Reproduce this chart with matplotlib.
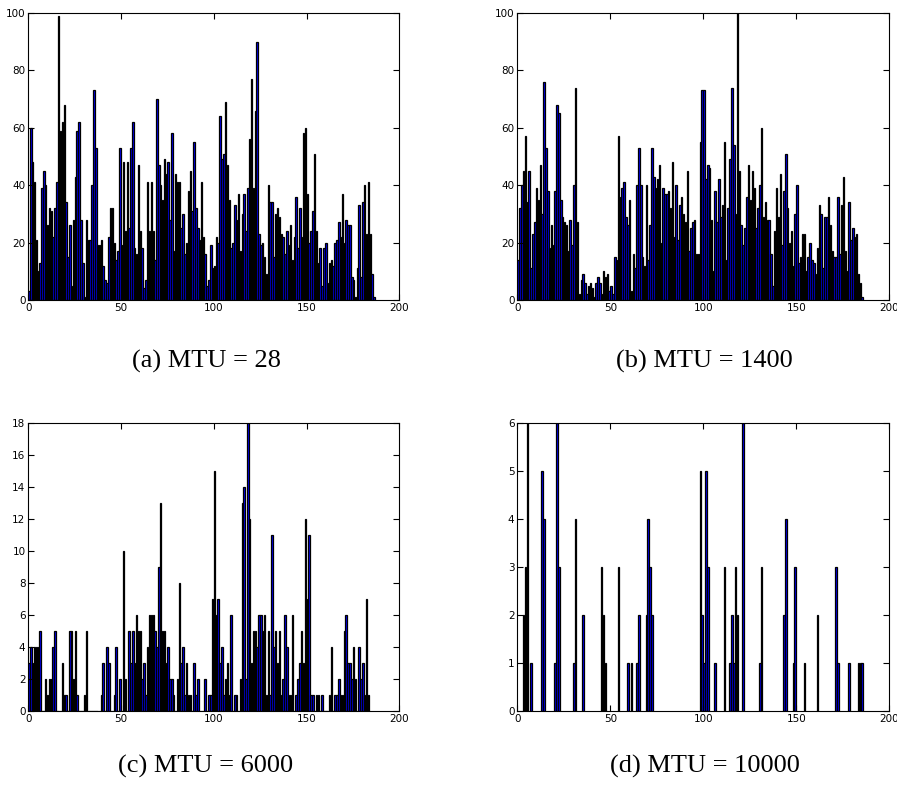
import matplotlib
matplotlib.use("Agg")
from matplotlib import pyplot as plt
import numpy as np

# packets per slot
mtu_28 = [3, 60, 48, 41, 21, 10, 13, 39, 45, 40,
          26, 32, 31, 22, 32, 41, 99, 59, 62, 68,
          34, 15, 26, 5, 28, 43, 59, 62, 28, 13,
          1, 28, 21, 21, 40, 73, 53, 19, 19, 21,
          12, 7, 6, 22, 32, 32, 20, 14, 17, 53,
          19, 48, 24, 48, 25, 53, 62, 18, 16, 47,
          24, 18, 4, 7, 41, 24, 41, 24, 14, 70,
          47, 40, 35, 49, 44, 48, 28, 58, 17, 44,
          41, 41, 25, 30, 16, 20, 38, 45, 31, 55,
          32, 25, 21, 41, 22, 16, 5, 7, 19, 11,
          12, 22, 20, 64, 49, 51, 69, 47, 35, 18,
          20, 33, 28, 37, 17, 30, 37, 24, 39, 56,
          77, 39, 66, 90, 23, 19, 20, 15, 9, 40,
          34, 34, 15, 30, 32, 29, 23, 22, 16, 24,
          19, 26, 14, 22, 36, 18, 32, 22, 58, 60,
          37, 20, 24, 31, 51, 24, 13, 18, 5, 18,
          20, 6, 13, 14, 12, 20, 21, 27, 22, 37,
          20, 28, 26, 26, 8, 7, 1, 11, 33, 8,
          34, 40, 23, 41, 23, 9, 1]

mtu_1400 = [14, 32, 40, 45, 57, 34, 45, 11, 23, 27,
            39, 35, 47, 30, 76, 53, 38, 18, 26, 19,
            38, 68, 65, 35, 29, 27, 26, 17, 28, 19,
            40, 74, 27, 2, 7, 9, 6, 2, 5, 6,
            4, 1, 6, 8, 6, 2, 10, 8, 9, 3,
            5, 2, 15, 14, 57, 36, 39, 41, 29, 26,
            35, 3, 16, 11, 40, 53, 40, 15, 12, 40,
            14, 26, 53, 43, 39, 42, 47, 20, 39, 37,
            37, 38, 32, 48, 22, 40, 21, 33, 36, 30,
            27, 45, 17, 25, 27, 28, 16, 16, 55, 73,
            73, 42, 47, 46, 28, 10, 38, 27, 42, 29,
            33, 55, 14, 32, 49, 74, 54, 30, 100, 45,
            26, 19, 25, 36, 47, 35, 45, 39, 25, 32,
            40, 60, 29, 34, 28, 28, 16, 5, 24, 39,
            29, 44, 19, 38, 51, 32, 20, 24, 12, 30,
            40, 13, 15, 23, 23, 10, 15, 20, 14, 13,
            9, 18, 33, 30, 11, 29, 29, 36, 26, 17,
            15, 15, 36, 16, 33, 43, 17, 10, 34, 21,
            25, 22, 23, 9, 6, 1]

mtu_6000 = [3, 4, 3, 4, 4, 4, 5, 0, 0, 2,
            1, 2, 2, 4, 5, 0, 0, 0, 3, 1,
            1, 0, 5, 5, 2, 5, 1, 0, 0, 0,
            1, 5, 0, 0, 0, 0, 0, 0, 0, 1,
            3, 0, 4, 3, 0, 0, 1, 4, 0, 2,
            0, 10, 2, 0, 5, 3, 5, 3, 6, 5,
            5, 2, 3, 1, 4, 6, 6, 6, 5, 4,
            9, 13, 5, 5, 3, 4, 2, 2, 1, 0,
            2, 8, 3, 4, 1, 3, 1, 1, 0, 3,
            1, 2, 0, 0, 0, 2, 0, 1, 1, 7,
            15, 6, 7, 3, 4, 1, 2, 3, 1, 6,
            0, 1, 1, 0, 2, 13, 14, 2, 18, 12,
            3, 5, 5, 4, 6, 6, 5, 6, 1, 5,
            1, 11, 4, 5, 3, 5, 1, 2, 6, 4,
            1, 1, 6, 0, 1, 2, 3, 5, 3, 12,
            7, 11, 1, 1, 0, 1, 1, 0, 1, 0,
            0, 0, 1, 4, 0, 1, 1, 2, 1, 1,
            5, 6, 3, 3, 2, 4, 2, 0, 4, 2,
            3, 1, 7, 1]

# MTU = 10000 is sparse: slot index and count
mtu_10000_slot = [3, 4, 5, 7, 13, 14, 20, 21, 22, 30, 31, 35, 45, 46, 47, 54,
                  59, 61, 64, 65, 69, 70, 71, 72, 98, 99, 100, 101, 102, 106,
                  111, 114, 115, 116, 117, 118, 121, 130, 131, 143, 144, 148,
                  149, 154, 161, 171, 172, 178, 183, 184, 185]
mtu_10000_cnt = [2, 3, 6, 1, 5, 4, 1, 6, 3, 1, 4, 2, 3, 2, 1, 3,
                 1, 1, 1, 2, 2, 4, 3, 2, 5, 2, 1, 5, 3, 1,
                 3, 1, 2, 1, 3, 2, 6, 1, 3, 2, 4, 1,
                 3, 1, 2, 3, 1, 1, 1, 1, 1]

captions = ["(a) MTU = 28", "(b) MTU = 1400", "(c) MTU = 6000", "(d) MTU = 10000"]


def draw_panel(ax, x, y, ymax, ystep):
    ax.bar(x, y, width=0.8, align="edge", color="b", edgecolor="k", linewidth=0.9)
    ax.set_xlim(0, 200)
    ax.set_ylim(0, ymax)
    ax.set_xticks(np.arange(0, 201, 50))
    ax.set_yticks(np.arange(0, ymax + 0.1, ystep))
    ax.tick_params(direction="in", top=True, right=True, labelsize=7.5,
                   length=4, pad=2, colors="k")
    for s in ax.spines.values():
        s.set_linewidth(0.8)


fig = plt.figure(figsize=(8.97, 7.89), dpi=100)

ax = fig.add_axes([0.0315, 0.6198, 0.4136, 0.3638])
draw_panel(ax, np.arange(len(mtu_28)), mtu_28, 100, 20)

ax = fig.add_axes([0.5767, 0.6198, 0.4147, 0.3638])
draw_panel(ax, np.arange(len(mtu_1400)), mtu_1400, 100, 20)

ax = fig.add_axes([0.0315, 0.0989, 0.4136, 0.365])
draw_panel(ax, np.arange(len(mtu_6000)), mtu_6000, 18, 2)

ax = fig.add_axes([0.5767, 0.0989, 0.4147, 0.365])
draw_panel(ax, mtu_10000_slot, mtu_10000_cnt, 6, 1)

cap_pos = [(206, 361), (704, 361), (206, 766), (705, 766)]
for (px, py), txt in zip(cap_pos, captions):
    fig.text(px / 897, 1 - py / 789, txt, ha="center", va="center",
             fontsize=19, family="Liberation Serif")

fig.savefig("out.png", dpi=100)
